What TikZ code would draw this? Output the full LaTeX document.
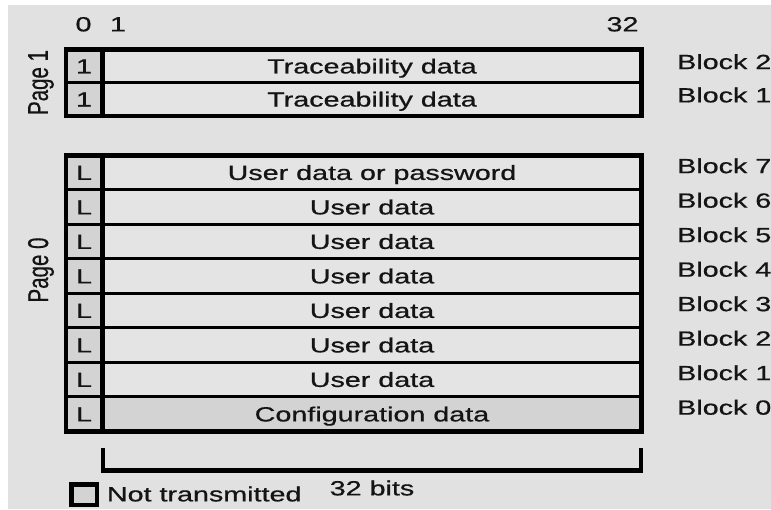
\documentclass[tikz,border=0pt]{standalone}
\usepackage{fontspec}
\setmainfont{Liberation Sans}[BoldFont=Liberation Sans, BoldFeatures={FakeBold=0.6}]
\usepackage{graphicx}
\definecolor{bg}{HTML}{E1E1E1}
\definecolor{cellbg}{HTML}{E4E4E4}
\definecolor{greycell}{HTML}{D3D3D3}
\definecolor{ink}{HTML}{141414}
% wide sans lettering used throughout the memory map
\newcommand{\wide}[1]{\scalebox{1.4}[1]{#1}}
\newcommand{\upright}[1]{\rotatebox{90}{\scalebox{1}[1.4]{#1}}}
\begin{document}
\begin{tikzpicture}[x=1pt,y=-1pt,
  txt/.style={inner sep=0pt, text height=14.7pt, text depth=0pt,
              font=\fontsize{20.5}{24}\selectfont\bfseries, text=ink},
  side/.style={inner sep=0pt, font=\fontsize{20.5}{24}\selectfont\bfseries, text=ink},
  frame/.style={line width=4.5pt, draw=black},
  rowline/.style={line width=3.2pt, draw=black},
  bracket/.style={line width=4.3pt, draw=black, line cap=rect}]

% canvas
\fill[white] (0,0) rectangle (771,509);
\fill[bg] (8,5) rectangle (771,509);
\useasboundingbox (0,0) rectangle (771,509);

% ---- page 1: two traceability blocks ----
\fill[greycell] (65.8,49.5) rectangle (102.5,115.8);
\fill[cellbg]   (102.5,49.5) rectangle (641.5,115.8);
\draw[rowline] (65.8,82.7) -- (641.5,82.7);
\draw[frame] (102.5,49.5) -- (102.5,115.8);
\draw[frame] (65.8,49.5) rectangle (641.5,115.8);

% ---- page 0: eight blocks ----
\fill[greycell] (65.8,155.3) rectangle (102.5,431.3);
\fill[cellbg]   (102.5,155.3) rectangle (641.5,396.8);
\fill[greycell] (102.5,396.8) rectangle (641.5,431.3);
\foreach \y in {189.8,224.3,258.8,293.3,327.8,362.3,396.8}
  \draw[rowline] (65.8,\y) -- (641.5,\y);
\draw[frame] (102.5,155.3) -- (102.5,431.3);
\draw[frame] (65.8,155.3) rectangle (641.5,431.3);

% bit positions
\node[txt] (b0)  at (83.5,24)  {\wide{0}};
\node[txt] (b1)  at (118,24)   {\wide{1}};
\node[txt] (b32) at (622.5,24) {\wide{32}};

% page labels
\node[side] (pg1) at (41,82.5) {\upright{Page 1}};
\node[side] (pg0) at (41,270)  {\upright{Page 0}};

% page 1 contents
\node[txt] (f1a) at (84,66.1) {\wide{1}};
\node[txt] (f1b) at (84,99.2) {\wide{1}};
\node[txt] (tr2) at (372,66.1) {\wide{Traceability data}};
\node[txt] (tr1) at (372,99.2) {\wide{Traceability data}};

% page 0 contents
\foreach \y [count=\i] in {172.55,207.05,241.55,276.05,310.55,345.05,379.55,414.05}
  \node[txt] (lk\i) at (84,\y) {\wide{L}};
\node[txt] (u7) at (372,172.55) {\wide{User data or password}};
\node[txt] (u6) at (372,207.05) {\wide{User data}};
\node[txt] (u5) at (372,241.55) {\wide{User data}};
\node[txt] (u4) at (372,276.05) {\wide{User data}};
\node[txt] (u3) at (372,310.55) {\wide{User data}};
\node[txt] (u2) at (372,345.05) {\wide{User data}};
\node[txt] (u1) at (372,379.55) {\wide{User data}};
\node[txt] (cfg) at (372,414.05) {\wide{Configuration data}};

% block numbers
\node[txt, anchor=west] (blk1p2) at (677,61.7) {\wide{Block 2}};
\node[txt, anchor=west] (blk1p1) at (677,95)   {\wide{Block 1}};
\foreach \y/\n in {165.8/7,200.3/6,234.8/5,269.3/4,303.8/3,338.3/2,372.8/1,407.3/0}
  \node[txt, anchor=west] (blk0p\n) at (677,\y) {\wide{Block \n}};

% 32-bit span
\coordinate (brl) at (103,450);
\coordinate (brr) at (641,450);
\draw[bracket] (brl) -- (brl |- 0,470.5) -- (brr |- 0,470.5) -- (brr);
\node[txt] (bits) at (372,488) {\wide{32 bits}};

% legend
\node[draw=black, fill=greycell, line width=4.3pt, minimum width=25.5pt,
      minimum height=20.5pt, inner sep=0pt] (key) at (84.25,494.75) {};
\node[txt, anchor=west] (keytxt) at (106.7,494) {\wide{Not transmitted}};
\end{tikzpicture}
\end{document}
